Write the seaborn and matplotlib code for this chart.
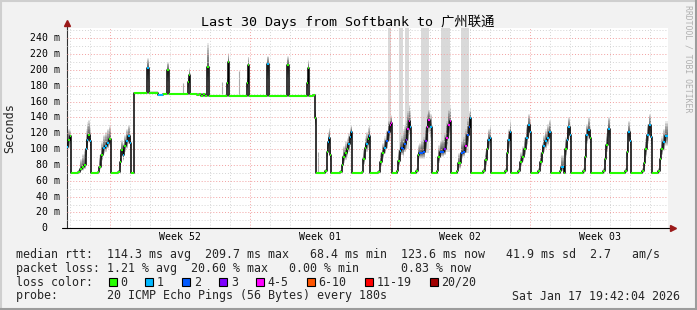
import numpy as np
import matplotlib
matplotlib.use("Agg")
import matplotlib.pyplot as plt
import seaborn as sns
from matplotlib import transforms
from matplotlib.patches import Rectangle
from matplotlib.lines import Line2D

# ---- data (time in days since start of the 30 day window, rtt in ms) ----
day = [
    0.00, 0.07, 0.14, 0.19, 0.22, 0.55, 0.65, 0.75, 0.85, 0.94, 1.00, 1.07, 1.14,
    1.22, 1.54, 1.60, 1.70, 1.80, 1.90, 2.00, 2.10, 2.18,
    2.22, 2.57, 2.63, 2.70, 2.78, 2.85, 2.95, 3.05, 3.13, 3.19, 3.37,
    4.00, 4.12, 4.55, 4.80, 5.02, 5.12, 6.04, 6.09, 6.15,
    6.50, 6.60, 6.70, 6.80, 6.90, 7.02, 7.12, 7.98, 8.03, 8.12,
    8.98, 9.03, 9.12, 10.02, 10.12, 11.02, 11.12, 11.99, 12.04, 12.12, 12.32, 12.42, 12.47,
    12.90, 12.98, 13.05, 13.12, 13.17, 13.22,
    13.65, 13.74, 13.82, 13.90, 13.99, 14.07, 14.15, 14.20, 14.25,
    14.74, 14.80, 14.89, 14.97, 15.05, 15.12, 15.17,
    15.57, 15.65, 15.75, 15.85, 15.95, 16.05, 16.13, 16.20, 16.25,
    16.49, 16.55, 16.63, 16.70, 16.78, 16.85, 16.93, 17.00, 17.08, 17.15, 17.20,
    17.47, 17.54, 17.60, 17.70, 17.80, 17.90, 17.99, 18.07, 18.15, 18.24,
    18.49, 18.55, 18.65, 18.75, 18.85, 18.95, 19.05, 19.13, 19.20,
    19.49, 19.55, 19.69, 19.80, 19.90, 20.00, 20.09, 20.14, 20.19,
    20.82, 20.90, 20.99, 21.07, 21.15, 21.22,
    21.90, 21.98, 22.07, 22.15, 22.22,
    22.57, 22.65, 22.75, 22.85, 22.95, 23.07, 23.14, 23.19,
    23.57, 23.65, 23.74, 23.82, 23.90, 24.00, 24.10, 24.18,
    24.65, 24.70, 24.83, 24.90, 24.99, 25.07, 25.13, 25.18,
    25.82, 25.88, 25.95, 26.07, 26.15, 26.20,
    26.82, 26.88, 26.95, 27.07, 27.13, 27.17,
    27.90, 27.98, 28.07, 28.15, 28.20,
    28.74, 28.83, 28.90, 29.00, 29.10, 29.19, 29.24,
    29.57, 29.64, 29.72, 29.80, 29.90, 30.05,
]
rtt_median = [
    103, 112, 116, 96, 70, 71, 75, 78, 80, 100, 112, 118, 110,
    70, 71, 78, 92, 102, 104, 108, 113, 102,
    70, 71, 84, 99, 92, 104, 110, 117, 108, 70, 171,
    202, 171, 169, 170, 200, 170, 185, 194, 170,
    168, 170, 167, 170, 167, 204, 167, 183, 210, 167,
    183, 206, 167, 207, 167, 206, 167, 183, 202, 167, 168, 139, 70,
    72, 97, 109, 114, 92, 70,
    71, 80, 90, 95, 100, 106, 115, 122, 70,
    71, 88, 102, 106, 113, 116, 70,
    71, 84, 95, 102, 110, 122, 130, 133, 70,
    72, 85, 98, 101, 100, 106, 112, 125, 135, 128, 70,
    72, 92, 95, 95, 96, 110, 128, 137, 128, 70,
    72, 90, 97, 97, 100, 114, 130, 135, 70,
    72, 82, 95, 97, 104, 118, 128, 139, 70,
    72, 86, 100, 112, 114, 70,
    72, 95, 112, 122, 70,
    72, 84, 90, 100, 114, 130, 122, 70,
    72, 84, 95, 104, 110, 114, 122, 70,
    72, 77, 70, 100, 112, 128, 118, 70,
    72, 90, 118, 124, 114, 70,
    72, 88, 105, 126, 118, 70,
    72, 96, 122, 110, 70,
    72, 82, 100, 118, 130, 115, 70,
    72, 88, 100, 109, 116, 116,
]
rtt_low = [
    90, 100, 106, 86, 69, 70, 72, 73, 75, 90, 100, 108, 98,
    69, 70, 74, 85, 94, 96, 100, 104, 94,
    69, 70, 76, 90, 85, 96, 100, 106, 98, 69, 170,
    185, 170, 168, 169, 185, 169, 175, 185, 169,
    167, 169, 166, 169, 166, 185, 166, 175, 190, 166,
    175, 188, 166, 188, 166, 190, 166, 175, 188, 166, 167, 130, 69,
    70, 88, 100, 104, 84, 69,
    70, 74, 82, 86, 90, 96, 104, 110, 69,
    70, 80, 92, 96, 100, 104, 69,
    70, 78, 88, 94, 100, 110, 118, 120, 69,
    70, 78, 88, 92, 90, 96, 100, 110, 118, 110, 69,
    70, 80, 88, 88, 88, 98, 112, 120, 112, 69,
    70, 82, 90, 90, 92, 104, 116, 120, 69,
    70, 75, 88, 90, 95, 106, 116, 125, 69,
    70, 78, 90, 100, 104, 69,
    70, 86, 100, 110, 69,
    70, 78, 84, 92, 104, 116, 108, 69,
    70, 78, 88, 96, 100, 104, 110, 69,
    70, 72, 69, 90, 102, 114, 106, 69,
    70, 82, 106, 112, 104, 69,
    70, 80, 96, 114, 106, 69,
    70, 86, 110, 100, 69,
    70, 76, 90, 106, 118, 104, 69,
    70, 80, 92, 98, 104, 104,
]
rtt_high = [
    128, 126, 124, 106, 71, 74, 88, 94, 100, 126, 134, 137, 128,
    71, 74, 92, 110, 118, 122, 126, 130, 120,
    71, 74, 96, 112, 108, 118, 126, 130, 120, 71, 172,
    215, 173, 170, 171, 210, 171, 190, 202, 171,
    169, 171, 168, 171, 168, 234, 168, 190, 221, 168,
    190, 217, 168, 218, 168, 218, 168, 190, 212, 168, 169, 150, 71,
    75, 110, 122, 127, 104, 71,
    74, 92, 104, 110, 114, 120, 128, 130, 71,
    74, 100, 116, 122, 128, 130, 71,
    74, 96, 108, 116, 124, 136, 140, 143, 71,
    76, 100, 112, 116, 125, 130, 136, 148, 156, 150, 71,
    76, 105, 108, 110, 115, 128, 145, 150, 145, 71,
    76, 105, 110, 112, 120, 135, 150, 154, 71,
    76, 95, 110, 115, 125, 138, 148, 152, 71,
    76, 98, 114, 126, 130, 71,
    76, 108, 126, 135, 71,
    76, 96, 104, 115, 130, 145, 138, 71,
    76, 96, 108, 118, 125, 132, 137, 71,
    76, 93, 72, 115, 126, 141, 132, 71,
    76, 104, 132, 141, 130, 71,
    76, 100, 120, 141, 132, 71,
    76, 110, 135, 126, 71,
    76, 96, 114, 132, 145, 130, 71,
    76, 100, 116, 126, 135, 135,
]
loss = [
    1, 0, 0, 1, 0, 0, 0, 0, 0, 1, 1, 0, 1,
    0, 0, 0, 0, 1, 1, 1, 0, 1,
    0, 0, 0, 0, 1, 0, 1, 1, 1, 0, 0,
    1, 0, 1, 0, 0, 0, 0, 0, 0,
    0, 0, 0, 0, 0, 0, 0, 0, 0, 0,
    0, 0, 0, 1, 0, 0, 0, 0, 0, 0, 0, 0, 0,
    0, 0, 1, 1, 0, 0,
    0, 0, 0, 0, 0, 1, 1, 1, 0,
    0, 0, 0, 1, 0, 1, 0,
    0, 0, 0, 1, 2, 2, 4, 4, 0,
    0, 0, 1, 2, 2, 2, 3, 4, 4, 1, 0,
    0, 0, 2, 2, 2, 3, 4, 4, 1, 0,
    0, 0, 2, 2, 3, 4, 4, 4, 0,
    0, 0, 2, 2, 4, 2, 2, 1, 0,
    0, 0, 0, 1, 1, 0,
    0, 0, 1, 1, 0,
    0, 0, 0, 0, 1, 1, 1, 0,
    0, 0, 0, 1, 1, 1, 1, 0,
    0, 1, 0, 0, 1, 1, 1, 0,
    0, 0, 1, 1, 0, 0,
    0, 0, 0, 1, 1, 0,
    0, 0, 1, 1, 0,
    0, 0, 0, 1, 1, 1, 0,
    0, 0, 0, 1, 1, 1,
]

# pings far above the scale (light grey columns)
storm_start = [16.07, 16.62, 16.88, 17.70, 18.70, 19.69]
storm_end = [16.18, 16.79, 17.10, 18.12, 19.15, 20.12]
storm_base = [110, 95, 100, 95, 97, 95]
storm_top = [260, 260, 260, 260, 260, 260]

# single high pings
spike_day = [5.82, 7.73, 8.62, 12.55]
spike_base = [171, 168, 168, 71]
spike_top = [183, 185, 199, 97]

loss_labels = ["0", "1", "2", "3", "4-5", "6-10", "11-19", "20/20"]
loss_palette = ["#26ff00", "#00b8ff", "#0059ff", "#7e00ff", "#ff00ff", "#ff5500", "#ff0000", "#a10000"]

week_pos = [5.65, 12.65, 19.65, 26.65]
week_labels = ["Week 52", "Week 01", "Week 02", "Week 03"]
week_lines = [2.15, 9.15, 16.15, 23.15]
y_ticks = list(range(20, 241, 20))

assert len(day) == len(rtt_median) == len(rtt_low) == len(rtt_high) == len(loss)

# ---- figure ----
sns.set_theme(style="white")
plt.rcParams["font.family"] = ["DejaVu Sans Mono", "Noto Sans CJK SC"]

W, H = 697, 310
fig = plt.figure(figsize=(W / 100, H / 100), dpi=100)
fig.patch.set_facecolor("#f2f2f2")
ax = fig.add_axes([67 / W, 1 - 228.3 / H, 601 / W, 200.3 / H])
ax.set_facecolor("white")
ax.set_xlim(0, 30.05)
ax.set_ylim(0, 253)

t = np.array(day)
med = np.array(rtt_median, dtype=float)
lo = np.array(rtt_low, dtype=float)
hi = np.array(rtt_high, dtype=float)

# outlier columns
ax.bar(storm_start, np.subtract(storm_top, storm_base), width=np.subtract(storm_end, storm_start),
       bottom=storm_base, align="edge", color="#d9d9d9", lw=0, zorder=0.8)
ax.vlines(spike_day, spike_base, spike_top, color="#ababab", lw=0.8, zorder=0.9)

# smoke
for f in np.linspace(1, 0.1, 10):
    ax.fill_between(t, med - f * (med - lo), med + f * (hi - med), step="post",
                    color="black", alpha=0.085, lw=0, zorder=1)

# grid
ax.set_axisbelow(False)
ax.set_xticks(week_lines)
ax.set_xticks([d + 0.15 for d in range(30) if round(d + 0.15, 2) not in week_lines], minor=True)
ax.set_yticks(y_ticks)
ax.set_yticks(list(range(10, 251, 20)), minor=True)
ax.grid(which="major", color="#f2a0a0", ls=(0, (1, 2)), lw=0.7)
ax.grid(which="minor", color="#d4d4d4", ls=(0, (1, 2)), lw=0.7)
ax.tick_params(labelleft=False, labelbottom=False)
ax.tick_params(axis="y", which="major", length=3.5, width=0.7, color="#444444", direction="out")
ax.tick_params(axis="x", which="major", length=2.5, width=0.7, color="#e07070", direction="out")
ax.tick_params(which="minor", length=0)
for s in ["top", "right", "bottom"]:
    ax.spines[s].set_visible(False)
ax.spines["left"].set_color("#333333")
ax.spines["left"].set_linewidth(0.8)

# median line coloured by loss
sns.lineplot(x=t, y=med, drawstyle="steps-post", color="black", lw=1.1,
             estimator=None, errorbar=None, ax=ax, zorder=3, legend=False)
seg_end = np.append(t[1:], 30.05)
ax.hlines(med, t, seg_end, colors=[loss_palette[l] for l in loss], lw=1.5, zorder=4)

# axes lines & arrows
ax.plot([-0.009, 1.006], [0, 0], transform=ax.transAxes, color="black", lw=0.8, clip_on=False, zorder=5)
ax.plot([0, 0], [1.0, 1.02], transform=ax.transAxes, color="#333333", lw=0.8, clip_on=False, zorder=5)
ax.plot([0], [1.025], transform=ax.transAxes, marker="^", ms=4.5, color="#9b1a1a", clip_on=False, zorder=5)
ax.plot([1.008], [0], transform=ax.transAxes, marker=">", ms=4.5, color="#9b1a1a", clip_on=False, zorder=5)

# tick labels
ylab_tr = transforms.blended_transform_factory(fig.transFigure, ax.transData)
for v in [0] + y_ticks:
    lab = "  0" if v == 0 else f"{v:3d} m"
    ax.text(30 / W, v, lab, transform=ylab_tr, ha="left", va="center", fontsize=7.1, color="black")
xlab_tr = transforms.blended_transform_factory(ax.transData, fig.transFigure)
for p, lab in zip(week_pos, week_labels):
    ax.text(p, 1 - 237.3 / H, lab, transform=xlab_tr, ha="center", va="center", fontsize=7.1, color="black")

# texts
fig.text(347.8 / W, 1 - 22 / H, "Last 30 Days from Softbank to 广州联通", ha="center", va="center",
         fontsize=9.6, color="black")
fig.text(10 / W, 1 - 128 / H, "Seconds", rotation=90, ha="center", va="center", fontsize=8.5)
fig.text(688 / W, 1 - 5 / H, "RRDTOOL / TOBI OETIKER", rotation=270, ha="center", va="top",
         fontsize=5.9, color="#b0b0b0")

fs = 8.37
cw = 6.95
fig.text(16 / W, 1 - 254.3 / H,
         "median rtt:  114.3 ms avg  209.7 ms max   68.4 ms min  123.6 ms now   41.9 ms sd  2.7   am/s",
         ha="left", va="center", fontsize=fs)
fig.text(16 / W, 1 - 268.3 / H,
         "packet loss: 1.21 % avg  20.60 % max   0.00 % min      0.83 % now",
         ha="left", va="center", fontsize=fs)
fig.text(16 / W, 1 - 282.3 / H, "loss color:", ha="left", va="center", fontsize=fs)
lx = 120
for lab, col in zip(loss_labels, loss_palette):
    fig.add_artist(Rectangle(((lx - 11.5) / W, 1 - 286 / H), 8 / W, 8 / H, transform=fig.transFigure,
                             facecolor=col, edgecolor="black", lw=0.8))
    fig.text(lx / W, 1 - 282.3 / H, lab, ha="left", va="center", fontsize=fs)
    lx += len(lab) * cw + 30
fig.text(16 / W, 1 - 296 / H, "probe:       20 ICMP Echo Pings (56 Bytes) every 180s",
         ha="left", va="center", fontsize=fs)
fig.text(680 / W, 1 - 296 / H, "Sat Jan 17 19:42:04 2026", ha="right", va="center", fontsize=fs)

# frame
fig.add_artist(Line2D([0, 1], [1 - 1 / H, 1 - 1 / H], transform=fig.transFigure, color="#cfcfcf", lw=1.5))
fig.add_artist(Line2D([1 / W, 1 / W], [0, 1], transform=fig.transFigure, color="#cfcfcf", lw=1.5))
fig.add_artist(Line2D([0, 1], [1 / H, 1 / H], transform=fig.transFigure, color="#9c9c9c", lw=1.5))
fig.add_artist(Line2D([1 - 1 / W, 1 - 1 / W], [0, 1], transform=fig.transFigure, color="#9c9c9c", lw=1.5))

fig.savefig("out.png", dpi=100, facecolor=fig.get_facecolor())
